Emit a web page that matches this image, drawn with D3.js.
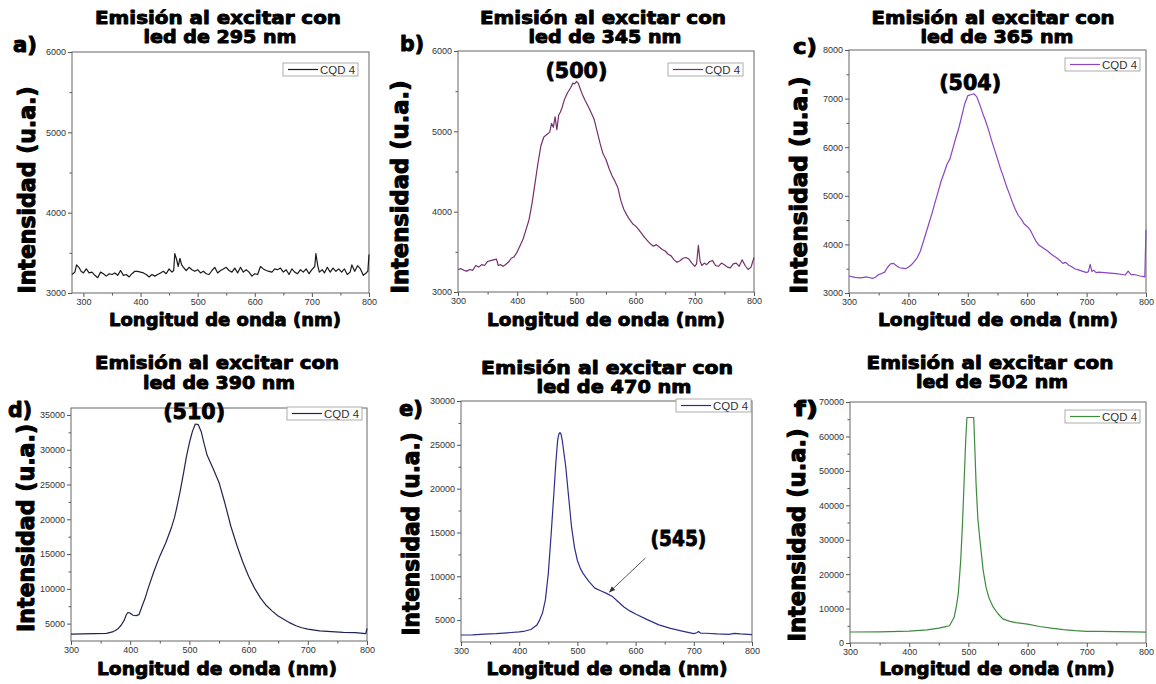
<!DOCTYPE html>
<html><head><meta charset="utf-8">
<script src="https://cdn.jsdelivr.net/npm/d3@7"></script>
<style>
html,body{margin:0;padding:0;background:#fff;}
svg{display:block;}
</style></head>
<body>
<svg id="chart" width="1156" height="684"></svg>
<script>
// ---------------- DATA ----------------
const ledWavelengths = [295, 345, 365, 390, 470, 502];
const panelLetters = ["a)", "b)", "c)", "d)", "e)", "f)"];
const seriesName = "CQD 4";
const xTicks = [300, 400, 500, 600, 700, 800];
const xMinorTicks = [350, 450, 550, 650, 750];

const yTicksA = [3000, 4000, 5000, 6000];
const yTicksB = [3000, 4000, 5000, 6000];
const yTicksC = [3000, 4000, 5000, 6000, 7000, 8000];
const yTicksD = [5000, 10000, 15000, 20000, 25000, 30000, 35000];
const yTicksE = [5000, 10000, 15000, 20000, 25000, 30000];
const yTicksF = [0, 10000, 20000, 30000, 40000, 50000, 60000, 70000];

const wlA = [280,285,288,292,296,300,305,310,315,320,325,330,335,340,345,350,355,360,365,370,375,380,385,390,395,400,405,410,415,420,425,430,435,440,445,450,455,458,460,463,466,469,472,475,480,485,490,495,500,505,510,515,520,525,530,535,540,545,550,555,560,565,570,575,580,585,590,595,600,605,610,615,620,625,630,635,640,645,650,655,660,665,670,675,680,685,690,695,700,705,707,710,713,718,722,727,732,737,742,747,752,757,762,767,770,775,780,785,790,795,798,800];
const intA = [3230,3260,3350,3320,3270,3250,3300,3250,3260,3220,3190,3260,3240,3210,3240,3230,3250,3220,3280,3220,3230,3200,3240,3270,3270,3260,3250,3230,3200,3230,3210,3230,3250,3270,3240,3300,3260,3280,3490,3420,3330,3430,3350,3320,3280,3320,3290,3270,3290,3250,3270,3240,3230,3280,3320,3250,3280,3300,3320,3280,3260,3310,3250,3320,3260,3290,3260,3210,3240,3230,3330,3300,3280,3270,3260,3300,3290,3310,3260,3290,3230,3300,3260,3240,3290,3260,3300,3240,3290,3330,3490,3350,3260,3290,3250,3320,3260,3310,3270,3300,3260,3300,3230,3260,3350,3270,3340,3300,3220,3250,3270,3480];

const wlB = [300,305,310,315,320,325,330,335,340,345,350,355,360,365,368,372,376,380,385,390,395,400,405,410,415,420,425,430,435,440,445,450,455,458,461,464,467,470,473,476,480,485,490,494,497,500,503,506,510,515,520,525,530,535,540,545,550,555,560,565,570,575,580,585,590,595,600,605,610,615,620,625,630,635,640,645,650,655,660,665,670,675,680,685,690,695,700,703,706,709,712,716,720,725,730,735,740,745,750,755,760,765,770,775,780,785,790,795,800];
const intB = [3280,3290,3270,3260,3280,3270,3330,3310,3340,3330,3380,3390,3400,3410,3330,3340,3320,3340,3370,3420,3440,3500,3580,3660,3780,3900,4100,4350,4600,4820,4930,4960,4990,5100,5050,5180,5020,5200,5240,5300,5400,5480,5540,5600,5590,5620,5600,5540,5460,5380,5310,5230,5150,5000,4850,4720,4650,4540,4450,4380,4300,4140,4030,3960,3900,3850,3820,3780,3730,3680,3640,3600,3570,3590,3560,3530,3510,3470,3450,3400,3370,3390,3420,3430,3410,3360,3320,3350,3580,3380,3330,3360,3340,3380,3390,3330,3320,3360,3340,3310,3300,3350,3360,3320,3400,3330,3280,3310,3430];

const wlC = [300,310,320,330,340,345,350,355,360,365,370,375,380,385,390,395,400,405,410,415,420,425,430,435,440,445,450,455,460,465,470,475,480,485,490,495,500,505,510,515,520,525,530,535,540,545,550,555,560,565,570,575,580,585,590,595,600,605,610,615,620,625,630,635,640,645,650,655,660,665,670,675,680,685,690,695,700,703,706,709,712,716,720,730,740,750,760,765,770,775,780,790,798,800];
const intC = [3350,3320,3310,3330,3300,3330,3380,3400,3430,3530,3600,3610,3560,3520,3510,3500,3530,3580,3650,3730,3860,4050,4250,4450,4650,4870,5080,5300,5470,5650,5760,5980,6200,6400,6650,6900,7060,7080,7100,7040,6880,6700,6540,6350,6140,5950,5760,5560,5390,5200,5040,4870,4720,4600,4520,4420,4370,4300,4180,4060,3980,3940,3900,3860,3800,3760,3720,3670,3610,3630,3570,3540,3500,3480,3460,3440,3420,3440,3590,3440,3470,3420,3430,3420,3410,3400,3380,3370,3450,3380,3380,3350,3330,4300];

const wlD = [300,320,340,360,370,375,380,385,390,393,396,400,405,410,415,420,425,430,440,450,460,470,475,480,485,490,495,500,505,510,515,520,525,530,540,550,560,570,580,590,600,610,620,630,640,650,660,670,680,690,700,720,740,760,780,798,800];
const intD = [3500,3520,3550,3600,3800,4000,4300,4800,5500,6200,6600,6500,6200,6150,6300,7500,8600,10000,12500,14700,16600,18900,20300,22200,24300,26600,29000,31000,32600,33700,33600,32600,30800,29200,27300,25300,22300,19000,16300,13900,11800,10100,8700,7600,6800,6100,5600,5100,4700,4400,4200,3950,3850,3750,3700,3550,4300];

const wlE = [300,320,340,360,380,400,410,420,430,435,440,445,450,455,460,463,466,468,470,472,474,477,480,485,490,495,500,505,510,520,530,540,550,560,570,580,590,600,620,640,660,680,700,705,708,712,720,740,760,770,780,800];
const intE = [3300,3320,3400,3450,3550,3650,3750,3930,4400,5000,5800,7300,10300,14900,19900,23000,25500,26200,26400,26200,25500,24000,22500,19000,15600,13300,11800,10900,10300,9400,8650,8350,8050,7700,7100,6500,6050,5700,5050,4450,4050,3750,3450,3550,3700,3500,3500,3420,3380,3480,3420,3350];

const wlF = [300,350,400,430,450,460,468,476,480,483,487,490,493,495.5,497.5,509,511,513,516,520,525,530,535,542,550,558,570,580,600,620,640,660,680,700,720,750,780,800];
const intF = [3200,3250,3450,3800,4300,4700,5000,7500,11000,14500,24000,34600,48000,59000,65500,65500,56000,46000,36000,29000,21000,16000,13000,10400,8500,7000,6300,5900,5500,4800,4300,3900,3600,3400,3350,3300,3250,3150];

// peak annotations: [label, x (nm), y value anchor]
const peakLabels = [null, [500, 500, 5620], [504, 504, 7100], [510, 508, 33800], null, null];
const shoulderLabel = {text: 545, at: [555, 8200]};

// ---------------- LAYOUT ----------------
const panels = [
  {wl: wlA, val: intA, yT: yTicksA, yD: [3000, 6000], xD: [280, 800], box: [72, 369, 52, 293], color: "#1a1a1a",
   title: [218, 24, 246, 220, 43, 153], letter: [13, 52], ylab: [35, 190, 207], xlab: [225, 326, 232], legend: [283, 63]},
  {wl: wlB, val: intB, yT: yTicksB, yD: [3000, 6000], xD: [300, 800], box: [458, 754, 51, 292], color: "#74306f",
   title: [603, 24, 246, 605, 43, 153], letter: [400, 51], ylab: [408, 187, 213], xlab: [606, 326, 238], legend: [668, 63]},
  {wl: wlC, val: intC, yT: yTicksC, yD: [3000, 8000], xD: [300, 800], box: [849, 1146, 50, 293], color: "#8a44c4",
   title: [993, 24, 243, 997, 43, 153], letter: [793, 54], ylab: [807, 185, 217], xlab: [998, 326, 240], legend: [1065, 58]},
  {wl: wlD, val: intD, yT: yTicksD, yD: [2500, 36000], xD: [300, 800], box: [71, 367, 408, 641], color: "#23234f",
   title: [217, 369, 244, 219, 389, 152], letter: [8, 417], ylab: [34, 528, 208], xlab: [217, 675, 240], legend: [287, 407]},
  {wl: wlE, val: intE, yT: yTicksE, yD: [2500, 30000], xD: [300, 800], box: [461, 752, 401, 642], color: "#2e2e8a",
   title: [607, 374, 252, 614, 393, 155], letter: [399, 416], ylab: [419, 534, 203], xlab: [607, 675, 241], legend: [676, 399]},
  {wl: wlF, val: intF, yT: yTicksF, yD: [0, 70000], xD: [300, 800], box: [850, 1146, 402, 643], color: "#3d8b3d",
   title: [990, 369, 247, 992, 388, 152], letter: [794, 416], ylab: [805, 535, 213], xlab: [997, 675, 235], legend: [1065, 410]}
];

const svg = d3.select("#chart");
const boldFont = "'DejaVu Sans', sans-serif";
const tickFont = "'Liberation Sans', Arial, sans-serif";

svg.append("defs").append("marker")
  .attr("id", "arrow").attr("viewBox", "0 0 10 10").attr("refX", 9).attr("refY", 5)
  .attr("markerWidth", 7).attr("markerHeight", 7).attr("orient", "auto")
  .append("path").attr("d", "M0,1 L10,5 L0,9 z").attr("fill", "#333");

function boldText(sel, size, stroke) {
  return sel.attr("font-family", boldFont).attr("font-weight", "bold").attr("font-size", size)
    .attr("fill", "#000").attr("stroke", "#000").attr("stroke-width", stroke).attr("stroke-linejoin", "round");
}

panels.forEach((p, i) => {
  const [L, R, T, B] = p.box;
  const x = d3.scaleLinear().domain(p.xD).range([L, R]);
  const y = d3.scaleLinear().domain(p.yD).range([B, T]);
  const g = svg.append("g");

  // titles
  boldText(g.append("text"), 17.5, 0.9).attr("x", p.title[0]).attr("y", p.title[1]).attr("text-anchor", "middle")
    .attr("textLength", p.title[2]).attr("lengthAdjust", "spacingAndGlyphs")
    .text("Emisión al excitar con");
  boldText(g.append("text"), 17.5, 0.9).attr("x", p.title[3]).attr("y", p.title[4]).attr("text-anchor", "middle")
    .attr("textLength", p.title[5]).attr("lengthAdjust", "spacingAndGlyphs")
    .text("led de " + ledWavelengths[i] + " nm");

  // panel letter
  boldText(g.append("text"), 22, 1).attr("x", p.letter[0]).attr("y", p.letter[1])
    .attr("textLength", 24).attr("lengthAdjust", "spacingAndGlyphs")
    .text(panelLetters[i]);

  // axes
  g.append("g").attr("transform", `translate(0,${B})`)
    .call(d3.axisBottom(x).tickValues(xTicks).tickSize(4).tickPadding(2).tickFormat(d3.format("d")));
  g.append("g").attr("transform", `translate(0,${B})`)
    .call(d3.axisBottom(x).tickValues(xMinorTicks).tickSize(2.5).tickFormat(""));
  g.append("g").attr("transform", `translate(${L},0)`)
    .call(d3.axisLeft(y).tickValues(p.yT).tickSize(4).tickPadding(2).tickFormat(d3.format("d")));
  const step = p.yT[1] - p.yT[0];
  const yMinor = p.yT.map(v => v + step / 2).filter(v => v < p.yD[1]);
  if (p.yT[0] - step / 2 > p.yD[0]) yMinor.unshift(p.yT[0] - step / 2);
  g.append("g").attr("transform", `translate(${L},0)`)
    .call(d3.axisLeft(y).tickValues(yMinor).tickSize(2.5).tickFormat(""));
  g.selectAll(".domain").remove();
  g.selectAll(".tick line").attr("stroke", "#555");
  g.selectAll(".tick text").attr("font-family", tickFont).attr("font-size", 9).attr("fill", "#333");

  // frame
  g.append("rect").attr("x", L).attr("y", T).attr("width", R - L).attr("height", B - T)
    .attr("fill", "none").attr("stroke", "#666").attr("stroke-width", 1);

  // line
  const pts = p.wl.map((w, k) => [w, p.val[k]]);
  g.append("path").datum(pts)
    .attr("d", d3.line().x(d => x(d[0])).y(d => y(d[1])))
    .attr("fill", "none").attr("stroke", p.color).attr("stroke-width", 1.2).attr("stroke-linejoin", "round");

  // legend
  const [lx, ly] = p.legend;
  g.append("rect").attr("x", lx).attr("y", ly).attr("width", 75).attr("height", 13)
    .attr("fill", "#fff").attr("stroke", "#999").attr("stroke-width", 0.8);
  g.append("line").attr("x1", lx + 5).attr("x2", lx + 35).attr("y1", ly + 6.5).attr("y2", ly + 6.5)
    .attr("stroke", p.color).attr("stroke-width", 1.2);
  g.append("text").attr("x", lx + 37).attr("y", ly + 10.5)
    .attr("font-family", tickFont).attr("font-size", 10.5).attr("fill", "#333")
    .attr("textLength", 35).attr("lengthAdjust", "spacingAndGlyphs")
    .text(seriesName);

  // axis titles
  boldText(g.append("text"), 23, 1.1).attr("transform", `translate(${p.ylab[0]},${p.ylab[1]}) rotate(-90)`)
    .attr("text-anchor", "middle")
    .attr("textLength", p.ylab[2]).attr("lengthAdjust", "spacingAndGlyphs")
    .text("Intensidad (u.a.)");
  boldText(g.append("text"), 18, 0.9).attr("x", p.xlab[0]).attr("y", p.xlab[1]).attr("text-anchor", "middle")
    .attr("textLength", p.xlab[2]).attr("lengthAdjust", "spacingAndGlyphs")
    .text("Longitud de onda (nm)");

  // peak label
  const pk = peakLabels[i];
  if (pk) {
    boldText(g.append("text"), 22, 0.9).attr("x", x(pk[1])).attr("y", y(pk[2]) - 4).attr("text-anchor", "middle")
      .attr("textLength", 62).attr("lengthAdjust", "spacingAndGlyphs")
      .text("(" + pk[0] + ")");
  }
  if (i === 4) {
    const ex = x(shoulderLabel.at[0]), ey = y(shoulderLabel.at[1]);
    g.append("line").attr("x1", ex + 36).attr("y1", ey - 34).attr("x2", ex).attr("y2", ey)
      .attr("stroke", "#444").attr("stroke-width", 0.9).attr("marker-end", "url(#arrow)");
    boldText(g.append("text"), 22, 0.9).attr("x", ex + 41).attr("y", ey - 46)
      .attr("textLength", 56).attr("lengthAdjust", "spacingAndGlyphs")
      .text("(" + shoulderLabel.text + ")");
  }
});
</script>
</body></html>
